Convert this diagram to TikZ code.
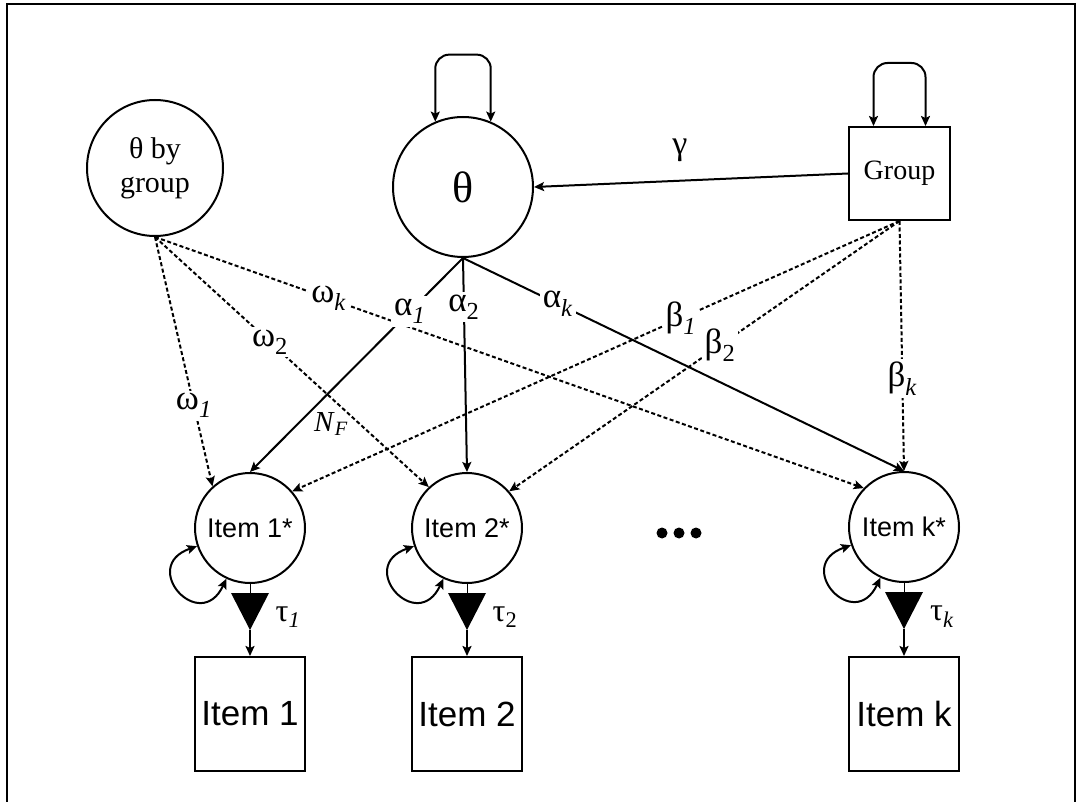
\documentclass[tikz,border=0pt]{standalone}
\usepackage{fontspec}
\setmainfont{Liberation Serif}
\newfontfamily\arialf{Liberation Sans}
\usetikzlibrary{arrows.meta,calc}
\tikzset{
  lw/.style={line width=2pt},
  arr/.style={-{Stealth[length=10pt,width=9pt,inset=2pt]}},
  arrs/.style={{Stealth[length=10pt,width=9pt,inset=2pt]}-{Stealth[length=10pt,width=9pt,inset=2pt]}},
  dsh/.style={dash pattern=on 4pt off 2.5pt},
  latent/.style={circle, draw, line width=2pt, inner sep=0pt},
  obs/.style={rectangle, draw, line width=2pt, inner sep=0pt},
  lab/.style={fill=white, inner sep=3pt, font=\fontsize{35}{36}\selectfont},
  itemc/.style={latent, minimum size=110pt, font=\arialf\fontsize{27}{30}\selectfont},
  itemb/.style={obs, minimum width=110pt, minimum height=114pt, font=\arialf\fontsize{35}{36}\selectfont},
  thr/.style={fill=black},
}
\begin{document}
\begin{tikzpicture}[x=1pt,y=-1pt]
\useasboundingbox (0,0) rectangle (1077,802);
% frame
\draw[line width=2.5pt] (7,802) -- (7,4) -- (1075,4) -- (1075,802);

% top nodes
\node[latent, minimum size=136pt, align=center, font=\fontsize{30}{34}\selectfont] (tbg) at (155,168) {θ by\\group};
\node[latent, minimum size=140pt, font=\fontsize{44}{46}\selectfont] (theta) at (463,187) {θ};
\node[obs, minimum width=101pt, minimum height=93pt, font=\fontsize{28}{30}\selectfont] (group) at (899.5,173.5) {Group};

% item latent nodes
\node[itemc] (i1) at (250,528) {Item 1*};
\node[itemc] (i2) at (467,528) {Item 2*};
\node[itemc] (ik) at (904,527) {Item k*};

% observed items
\node[itemb] (b1) at (250,714) {Item 1};
\node[itemb] (b2) at (467,714) {Item 2};
\node[itemb] (bk) at (904,714) {Item k};

% ellipsis dots
\fill (662,533) circle[radius=5.5pt];
\fill (679,533) circle[radius=5.5pt];
\fill (696,533) circle[radius=5.5pt];

% self loops
\draw[lw, arrs, rounded corners=14pt] (theta.113) -- ++(0,-67) -| (theta.67);
\draw[lw, arrs, rounded corners=14pt] ([xshift=-26pt]group.north) -- ++(0,-63) -| ([xshift=26pt]group.north);
\foreach \n in {i1,i2,ik}{
  \draw[lw, arrs] (\n.199) .. controls +(199:62pt) and +(245:62pt) .. (\n.245);
}

% gamma
\draw[lw, arr] (group.west) -- (theta.east);
\node[font=\fontsize{34}{36}\selectfont] (gam) at (680,150) {γ};

% omega paths (dashed)
\draw[lw, dsh, arr] (tbg.south) -- node[lab, pos=0.676] {ω\textsubscript{\textit{1}}} (i1.132);
\draw[lw, dsh, arr] (tbg.south) -- node[lab, pos=0.42] {ω\textsubscript{2}} (i2.133);
\draw[lw, dsh, arr] (tbg.south) -- node[lab, pos=0.245] {ω\textsubscript{\textit{k}}} (ik.136);

% alpha paths (solid)
\draw[lw, arr] (theta.south) -- node[lab, pos=0.25] {α\textsubscript{\textit{1}}} (i1.north);
\draw[lw, arr] (theta.south) -- node[lab, pos=0.23] {α\textsubscript{2}} (i2.north);
\draw[lw, arr] (theta.south) -- node[lab, pos=0.215] {α\textsubscript{\textit{k}}} (ik.north);

% beta paths (dashed)
\draw[lw, dsh, arr] (group.south) -- node[lab, pos=0.36] {β\textsubscript{\textit{1}}} (i1.41);
\draw[lw, dsh, arr] (group.south) -- node[lab, pos=0.46] {β\textsubscript{2}} (i2.41);
\draw[lw, dsh, arr] (group.south) -- node[lab, pos=0.63] {β\textsubscript{\textit{k}}} (ik.north);

% N_F label
\node[font=\fontsize{29}{30}\selectfont] (nf) at (331,424) {\textit{N}\textsubscript{\textit{F}}};

% thresholds
\foreach \n/\b/\t in {i1/b1/1, i2/b2/2, ik/bk/k}{
  \coordinate (ta\n) at ($(\n.south)+(0,9)$);
  \coordinate (tb\n) at ($(ta\n)+(0,37)$);
  \draw[line width=1pt] (\n.south) -- (ta\n);
  \fill[thr] (ta\n) ++(-19,0) -- ++(38,0) -- (tb\n) -- cycle;
  \draw[lw, arr] (tb\n) -- (\b.north);
}
\node[font=\fontsize{32}{34}\selectfont] (tau1) at (288,617) {τ\textsubscript{\textit{1}}};
\node[font=\fontsize{32}{34}\selectfont] (tau2) at (505,617) {τ\textsubscript{2}};
\node[font=\fontsize{32}{34}\selectfont] (tauk) at (942,617) {τ\textsubscript{\textit{k}}};
\end{tikzpicture}
\end{document}
